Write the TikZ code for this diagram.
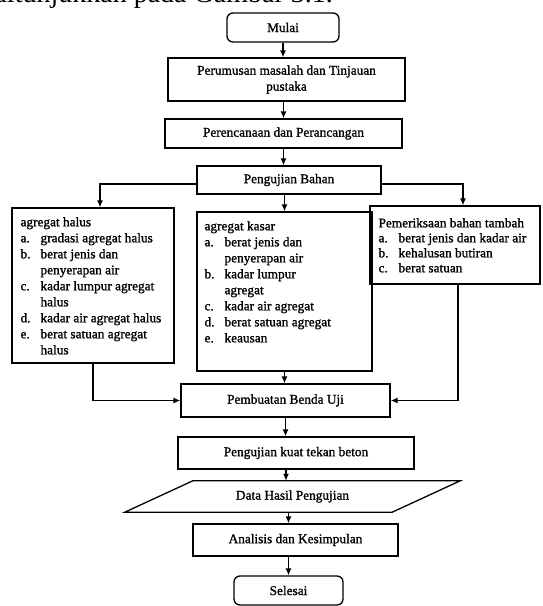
\documentclass[tikz,border=0pt]{standalone}
\usepackage{fontspec}
\setmainfont{Liberation Serif}[BoldFont={Liberation Serif},BoldFeatures={FakeBold=1.2}]
\usetikzlibrary{arrows.meta}
\begin{document}
\begin{tikzpicture}[x=1pt,y=-1pt,
  every node/.style={font=\fontsize{13.3}{16}\selectfont\bfseries, text=black},
  box/.style={draw, line width=1.3pt, inner sep=0pt, align=center},
  term/.style={box, rounded corners=6pt},
  lst/.style={inner sep=0pt, anchor=base west, align=left},
  arr/.style={line width=1.3pt, -{Latex[length=7pt,width=6pt]}},
  ln/.style={line width=1.3pt}]
\useasboundingbox (0,0) rectangle (543,606);
\clip (0,0) rectangle (543,606);

% fragment of the page text above the figure
\node[inner sep=0pt, anchor=base east, font=\fontsize{28}{30}\selectfont] (toptext) at (333,2) {ditunjukkan pada Gambar 3.1.};

% main column
\node[term, minimum width=112pt, minimum height=29pt] (mulai) at (283,27.5) {Mulai};
\node[box, minimum width=237pt, minimum height=43pt] (perum) at (286.5,79.5) {Perumusan masalah dan Tinjauan\\pustaka};
\node[box, minimum width=237pt, minimum height=29pt] (perenc) at (283.5,133.5) {Perencanaan dan Perancangan};
\node[box, minimum width=184pt, minimum height=28pt] (peng) at (289,180) {Pengujian Bahan};

% three material boxes
\node[box, minimum width=162pt, minimum height=155pt] (halus) at (93,285.5) {};
\node[box, minimum width=175pt, minimum height=159pt] (kasar) at (284.5,291.5) {};
\node[box, minimum width=170pt, minimum height=78pt] (pem) at (455,245) {};

\node[lst] (haluslist) at ([xshift=9pt,yshift=-19pt]halus.north west) {%
\begin{tabular}[t]{@{}p{20pt}@{}l@{}}
\multicolumn{2}{@{}l@{}}{agregat halus}\\
a.&gradasi agregat halus\\
b.&berat jenis dan\\
  &penyerapan air\\
c.&kadar lumpur agregat\\
  &halus\\
d.&kadar air agregat halus\\
e.&berat satuan agregat\\
  &halus
\end{tabular}};

\node[lst] (kasarlist) at ([xshift=8pt,yshift=-19pt]kasar.north west) {%
\begin{tabular}[t]{@{}p{20pt}@{}l@{}}
\multicolumn{2}{@{}l@{}}{agregat kasar}\\
a.&berat jenis dan\\
  &penyerapan air\\
b.&kadar lumpur\\
  &agregat\\
c.&kadar air agregat\\
d.&berat satuan agregat\\
e.&keausan
\end{tabular}};

\node[lst] (pemlist) at ([xshift=9pt,yshift=-22pt]pem.north west) {%
\begin{tabular}[t]{@{}p{20pt}@{}l@{}}
\multicolumn{2}{@{}l@{}}{Pemeriksaan bahan tambah}\\[-1pt]
a.&berat jenis dan kadar air\\[-1pt]
b.&kehalusan butiran\\[-1pt]
c.&berat satuan
\end{tabular}};

% lower column
\node[box, minimum width=209pt, minimum height=33pt] (pemb) at (285.5,400.5) {Pembuatan Benda Uji};
\node[box, minimum width=236pt, minimum height=32pt] (kuat) at (296,453) {Pengujian kuat tekan beton};
\node[inner sep=0pt, minimum width=267pt, minimum height=31pt] (data) at (292.5,496.5) {Data Hasil Pengujian};
\draw[ln] ([xshift=34pt]data.north west) -- ([xshift=34pt]data.north east)
  -- ([xshift=-34pt]data.south east) -- ([xshift=-34pt]data.south west) -- cycle;
\node[box, minimum width=205pt, minimum height=32pt] (anal) at (295.5,540) {Analisis dan Kesimpulan};
\node[term, minimum width=109pt, minimum height=29pt] (sel) at (288.5,590.5) {Selesai};

% connectors
\draw[arr] (mulai) -- (mulai |- perum.north);
\draw[arr] (perum.south -| perenc) -- (perenc.north);
\draw[arr] (perenc) -- (perenc |- peng.north);
\draw[arr] (peng.south -| kasar) -- (kasar.north);
\draw[arr] ([yshift=-4pt]peng.west) -| ([xshift=7pt]halus.north);
\draw[arr] ([yshift=-4pt]peng.east) -| ([xshift=8pt]pem.north);
\draw[arr] (halus.south) |- (pemb.west);
\draw[arr] ([xshift=3pt]pem.south) |- (pemb.east);
\draw[arr] (kasar) -- (kasar |- pemb.north);
\draw[arr] (pemb) -- (pemb |- kuat.north);
\draw[arr] ([xshift=-10pt]kuat.south) -- ([xshift=-10pt]kuat.south |- data.north);
\draw[arr] (sel |- data.south) -- (sel |- anal.north);
\draw[arr] (sel |- anal.south) -- (sel.north);
\end{tikzpicture}
\end{document}
